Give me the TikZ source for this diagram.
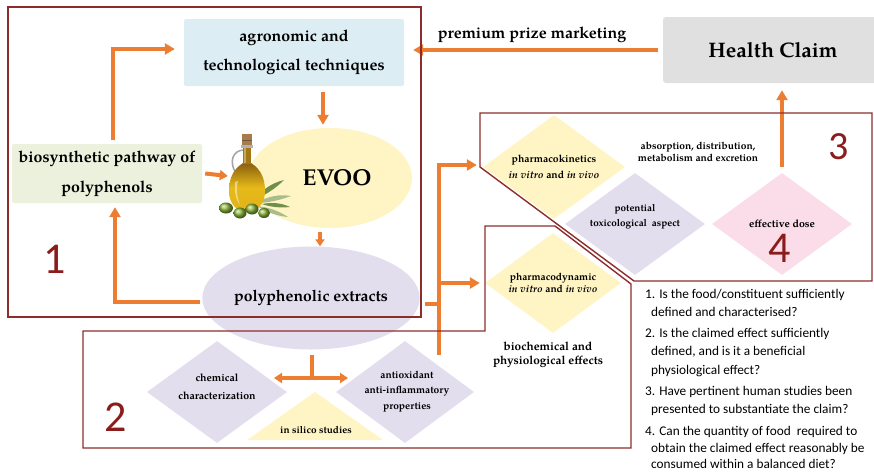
\documentclass[tikz,border=0pt]{standalone}
\usepackage{fontspec}
\setmainfont{texgyrepagella}[Extension=.otf, UprightFont=*-regular, BoldFont=*-bold, ItalicFont=*-italic, BoldItalicFont=*-bolditalic]
\newfontfamily\calib{Carlito}
\usetikzlibrary{shapes.geometric,arrows.meta,calc}

\definecolor{arrowor}{HTML}{ED7D31}
\definecolor{frame}{HTML}{8E2C2C}
\definecolor{numred}{HTML}{8B1C1C}
\definecolor{skyfill}{HTML}{DCEDF4}
\definecolor{leaffill}{HTML}{EBF1DC}
\definecolor{creamfill}{HTML}{FFF4C4}
\definecolor{lavfill}{HTML}{E2DEEE}
\definecolor{pinkfill}{HTML}{FADDE8}
\definecolor{greyfill}{HTML}{E0E0E0}
\definecolor{oilgold}{HTML}{E3B21C}
\definecolor{oildark}{HTML}{8A5E10}
\definecolor{olivegr}{HTML}{8DB83A}
\definecolor{leafgr}{HTML}{6F8F4A}
\definecolor{leafsil}{HTML}{A9BC8C}
\definecolor{corkbr}{HTML}{A77B4C}

\begin{document}
\begin{tikzpicture}[x=1pt,y=-1pt,
  flow/.style={draw=arrowor, line width=4pt, -{Triangle[length=10pt,width=11pt]}},
  smallflow/.style={draw=arrowor, line width=3.5pt, -{Triangle[length=7pt,width=9pt]}},
  flowline/.style={draw=arrowor, line width=4pt},
  frameline/.style={draw=frame, line width=1.4pt, line join=miter},
  rbox/.style={rounded corners=2pt, inner sep=0pt, align=center,
    font=\bfseries\fontsize{16}{29}\selectfont},
  dia/.style={diamond, aspect=1.37, inner sep=0pt, align=center,
    font=\bfseries\fontsize{10.4}{16}\selectfont},
  dtext/.style={align=center, inner sep=0pt, font=\bfseries\fontsize{10}{15}\selectfont},
  num/.style={font=\calib\fontsize{44}{44}\selectfont, text=numred, inner sep=0pt},
  qline/.style={anchor=base west, inner sep=0pt, font=\calib\fontsize{13.3}{18}\selectfont}
]
\useasboundingbox (0,0) rectangle (874,475);

% ---- coloured shapes ----
\node[rbox, fill=skyfill, minimum width=220pt, minimum height=67pt] (agro) at (294,52.5)
  {agronomic and\\technological techniques};
\node[rbox, fill=leaffill, minimum width=190pt, minimum height=59pt, font=\bfseries\fontsize{16}{30}\selectfont] (biosyn) at (107,173.5)
  {biosynthetic pathway of\\polyphenols};
\node[rounded corners=3pt, fill=greyfill, minimum width=220pt, minimum height=66pt, inner sep=0pt,
  font=\bfseries\fontsize{21}{24}\selectfont] (health) at (773,50) {Health Claim};

\node[ellipse, fill=creamfill, minimum width=164pt, minimum height=100pt, inner sep=0pt,
  font=\bfseries\fontsize{23}{25}\selectfont] (evoo) at (330,178) {\hspace*{14pt}EVOO};
\node[ellipse, fill=lavfill, minimum width=182pt, minimum height=103pt, inner sep=0pt,
  font=\bfseries\fontsize{15.8}{18}\selectfont] (polyph) at (311,298) {\raisebox{-5pt}{polyphenolic extracts}};

% diamonds of the study stages
\node[dia, fill=creamfill, minimum width=142pt, minimum height=104pt] (pk) at (554,167)
  {pharmacokinetics\\\textit{in vitro} and \textit{in vivo}};
\node[dia, fill=lavfill, minimum width=140pt, minimum height=102pt] (tox) at (635,224) {};
\node[dtext, font=\bfseries\fontsize{9.9}{15}\selectfont] (toxtext) at (635,216.5) {potential\\toxicological\ \ aspect};
\node[dia, fill=pinkfill, minimum width=140pt, minimum height=102pt,
  font=\bfseries\fontsize{10.6}{12}\selectfont] (ed) at (782,224) {effective dose};
\node[dia, fill=creamfill, minimum width=136pt, minimum height=100pt,
  font=\bfseries\fontsize{10.2}{12}\selectfont] (pd) at (553,283)
  {pharmacodynamic\\\textit{in vitro} and \textit{in vivo}};
\node[dia, fill=lavfill, minimum width=140pt, minimum height=102pt] (cc) at (217,392) {};
\node[dtext, font=\bfseries\fontsize{10.6}{18}\selectfont] (cctext) at (217,387) {chemical\\characterization};
\node[dia, fill=lavfill, minimum width=138pt, minimum height=102pt] (ao) at (405,392) {};
\node[dtext, font=\bfseries\fontsize{10.2}{15.5}\selectfont] (aotext) at (407,391.5)
  {antioxidant\\anti-inflammatory\\properties};
\fill[creamfill] (315,392) -- (383,440) -- (247,440) -- cycle;
\node[dtext, font=\bfseries\fontsize{10}{11}\selectfont] (silico) at (316,430) {in silico studies};

% ---- olive oil jug with olives ----
\node[inner sep=0pt, minimum width=50pt, minimum height=85pt] (bottle) at (253,176) {};
\begin{scope}
  % leaves behind the jug
  \fill[leafsil] (256,203) .. controls (268,196) and (280,194) .. (291,196) .. controls (280,200) and (268,203) .. (256,203) -- cycle;
  \fill[leafgr] (255,199) .. controls (263,189) and (272,183) .. (284,180) .. controls (276,188) and (266,195) .. (255,199) -- cycle;
  \fill[leafsil] (257,206) .. controls (268,207) and (279,211) .. (288,217) .. controls (277,216) and (266,212) .. (257,206) -- cycle;
  % handle
  \draw[black!35, line width=1.6pt] (244,150) .. controls (232,150) and (229,163) .. (236,173);
  % body
  \shade[top color=oildark, bottom color=oilgold, middle color=oilgold!90!yellow]
    (243,163) .. controls (232,170) and (229,180) .. (229,191)
    .. controls (229,204) and (237,212) .. (247,212)
    .. controls (257,212) and (265,204) .. (265,191)
    .. controls (265,180) and (262,170) .. (251,163) -- cycle;
  \fill[white, opacity=0.45] (235,182) .. controls (234,192) and (236,200) .. (240,205)
    .. controls (237,197) and (236,189) .. (238,181) -- cycle;
  % neck and cork
  \fill[oildark!70!oilgold] (243,147) rectangle (251,164);
  \fill[white, opacity=0.35] (244,148) rectangle (246,163);
  \fill[black!30] (241,145) rectangle (253,148);
  \fill[corkbr] (242,134) rectangle (252,145);
  \fill[corkbr!70!black] (242,140) rectangle (252,141);
  % olives
  \shade[ball color=olivegr] (226,208) ellipse (7pt and 5.5pt);
  \shade[ball color=olivegr] (240,213) ellipse (6.5pt and 5.5pt);
  \shade[ball color=olivegr] (252,209) ellipse (6.5pt and 5.5pt);
  \shade[ball color=olivegr] (264,213) ellipse (6pt and 5pt);
  \fill[leafgr] (262,204) .. controls (272,202) and (282,203) .. (290,207) .. controls (280,208) and (270,207) .. (262,204) -- cycle;
\end{scope}

% ---- connectors ----
\draw[flow] ([xshift=6pt,yshift=4pt]biosyn.north) |- ([xshift=-9pt,yshift=3.5pt]agro.west);
\draw[flow, -{Triangle[length=8pt,width=10pt]}] ([xshift=3pt]biosyn.east) -- (bottle.west);
\draw[flow] ([xshift=29pt,yshift=-6pt]agro.south) -- ([xshift=-7pt,yshift=3pt]evoo.north);
\draw[smallflow] ([xshift=-10pt,yshift=-4pt]evoo.south) -- ([xshift=9pt]polyph.north);
\draw[flow] ([xshift=-2pt,yshift=-4pt]polyph.west) -| ([xshift=8pt,yshift=-4pt]biosyn.south);
\draw[flow] ([xshift=-5pt]health.west) -- ([xshift=9pt,yshift=2.5pt]agro.east);
\draw[flow] ([yshift=6pt]ed.north) -- ($(ed.north |- health.south)+(0,7)$);

% distribution to the study stages
\coordinate (hub) at (439,304);
\coordinate (hubtop) at (439,165);
\coordinate (hubbot) at (439,355);
\draw[flowline] ([xshift=5pt,yshift=-6pt]polyph.east) -- (hub);
\draw[flowline] (hubbot) -- (hubtop);
\draw[flow] ([xshift=-2pt]hubtop) -- ([xshift=-6pt,yshift=2pt]pk.west);
\draw[flow] (hub |- pd.west) -- ([xshift=-5pt]pd.west);

% branching towards the chemical and biological assays
\coordinate (tjoint) at (312,378);
\coordinate (tleft) at (274,378);
\coordinate (tright) at (348,378);
\draw[flowline, line width=3.5pt] ([xshift=1pt,yshift=-5pt]polyph.south) -- (tjoint);
\draw[draw=arrowor, line width=3.5pt, {Triangle[length=8pt,width=10pt]}-{Triangle[length=8pt,width=10pt]}] (tleft) -- (tright);

% ---- stage frames ----
\draw[frameline] (8,7) rectangle (421,317);
\draw[frameline] (83,331) -- (485,331) -- (485,226) -- (555,226) -- (631,284) -- (631,448) -- (83,448) -- cycle;
\draw[frameline] (480,113) -- (872,113) -- (872,281) -- (634,281) -- (480,167) -- cycle;

% ---- free labels ----
\node[inner sep=0pt, font=\bfseries\fontsize{16}{18}\selectfont] (market) at (532,35) {premium prize marketing};
\node[dtext, font=\bfseries\fontsize{10.2}{12}\selectfont] (adme) at (698,152) {absorption, distribution,\\metabolism and excretion};
\node[dtext, font=\bfseries\fontsize{11.8}{14}\selectfont] (bio) at (548,355) {biochemical and\\physiological effects};

\node[num] (n1) at (55,259) {1};
\node[num] (n2) at (116,417) {2};
\node[num, font=\calib\fontsize{40}{40}\selectfont] (n3) at (839,147) {3};
\node[num] (n4) at (780,248) {4};

% ---- the four questions ----
\node[qline] (q1a) at (645,298) {1. Is the food/constituent sufficiently};
\node[qline] (q1b) at (651,316) {defined and characterised?};
\node[qline] (q2a) at (645,337) {2. Is the claimed effect sufficiently};
\node[qline] (q2b) at (651,355) {defined, and is it a beneficial};
\node[qline] (q2c) at (651,374) {physiological effect?};
\node[qline] (q3a) at (645,395) {3. Have pertinent human studies been};
\node[qline] (q3b) at (651,413) {presented to substantiate the claim?};
\node[qline] (q4a) at (645,435) {4. Can the quantity of food\ \ required to};
\node[qline] (q4b) at (651,452) {obtain the claimed effect reasonably be};
\node[qline] (q4c) at (651,468) {consumed within a balanced diet?};
\end{tikzpicture}
\end{document}
